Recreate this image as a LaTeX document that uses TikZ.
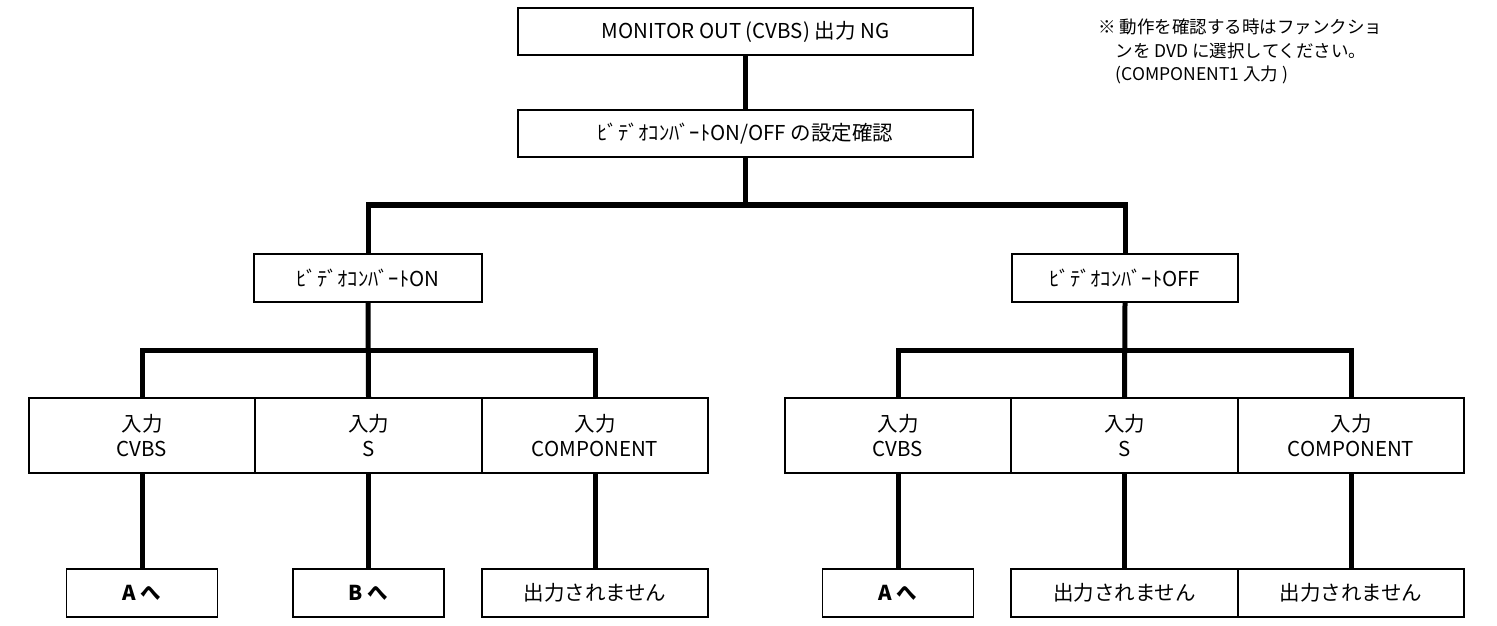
\documentclass[tikz,border=0pt]{standalone}
\usepackage{fontspec}
\setmainfont{Noto Sans CJK JP}
\begin{document}
\begin{tikzpicture}[x=1bp,y=-1bp,
  box/.style={draw=black,line width=1.6bp,rectangle,inner sep=0pt,align=center,font=\fontsize{20.5bp}{25.5bp}\selectfont},
  conn/.style={line width=5bp,draw=black}]
\useasboundingbox (0,0) rectangle (1497,626);
% top boxes
\node[box,minimum width=455bp,minimum height=47bp] (top) at (745.5,31.5) {MONITOR OUT (CVBS) 出力 NG};
\node[box,minimum width=455bp,minimum height=47bp] (mid) at (745.5,133.5) {ﾋﾞﾃﾞｵｺﾝﾊﾞｰﾄON/OFF の設定確認};
% level 2
\node[box,minimum width=228bp,minimum height=48bp] (lon) at (368,278) {ﾋﾞﾃﾞｵｺﾝﾊﾞｰﾄON};
\node[box,minimum width=226bp,minimum height=48bp] (loff) at (1125,278) {ﾋﾞﾃﾞｵｺﾝﾊﾞｰﾄOFF};
% input rows
\node[box,minimum width=226bp,minimum height=75bp] (L1) at (142,435.5) {入力\\CVBS};
\node[box,minimum width=227bp,minimum height=75bp] (L2) at (368.5,435.5) {入力\\S};
\node[box,minimum width=226bp,minimum height=75bp] (L3) at (595,435.5) {入力\\COMPONENT};
\node[box,minimum width=226bp,minimum height=75bp] (R1) at (898,435.5) {入力\\CVBS};
\node[box,minimum width=227bp,minimum height=75bp] (R2) at (1124.5,435.5) {入力\\S};
\node[box,minimum width=226bp,minimum height=75bp] (R3) at (1351,435.5) {入力\\COMPONENT};
% bottom
\node[box,minimum width=151bp,minimum height=48bp] (LA) at (142,593) {\bfseries A へ};
\node[box,minimum width=151bp,minimum height=48bp] (LB) at (368.5,593) {\bfseries B へ};
\node[box,minimum width=226bp,minimum height=48bp] (LN) at (595,593) {出力されません};
\node[box,minimum width=151bp,minimum height=48bp] (RA) at (898,593) {\bfseries A へ};
\node[box,minimum width=227bp,minimum height=48bp] (RN1) at (1124.5,593) {出力されません};
\node[box,minimum width=226bp,minimum height=48bp] (RN2) at (1351,593) {出力されません};
% note
\node[anchor=north west,inner sep=0pt,align=left,font=\fontsize{17.5bp}{23.5bp}\selectfont] (note) at (1098,19) {※ 動作を確認する時はファンクショ\\\hspace*{17.5bp}ンを DVD に選択してください。\\\hspace*{17.5bp}(COMPONENT1 入力 )};
% connectors
\coordinate (bus1) at (745.5,205);
\coordinate (bus2) at (368.5,350);
\coordinate (bus3) at (1124.5,350);
\draw[conn] (top.south) -- (mid.north);
\draw[conn] (mid.south) -- (bus1);
\draw[conn] (lon.north) |- (bus1) -| (loff.north);
\draw[conn] (lon.south) -- (L2.north);
\draw[conn] (L1.north) |- (bus2) -| (L3.north);
\draw[conn] (loff.south) -- (R2.north);
\draw[conn] (R1.north) |- (bus3) -| (R3.north);
\draw[conn] (L1.south) -- (LA.north);
\draw[conn] (L2.south) -- (LB.north);
\draw[conn] (L3.south) -- (LN.north);
\draw[conn] (R1.south) -- (RA.north);
\draw[conn] (R2.south) -- (RN1.north);
\draw[conn] (R3.south) -- (RN2.north);
\end{tikzpicture}
\end{document}
